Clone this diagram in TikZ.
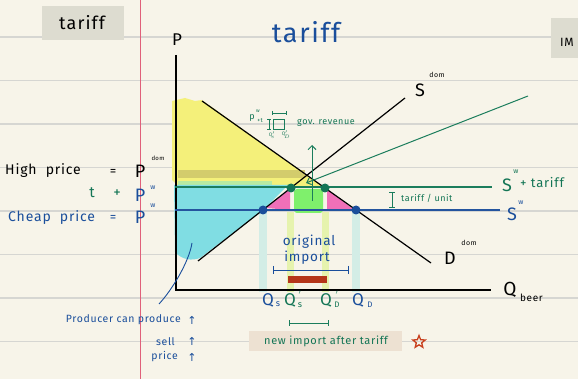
\documentclass[tikz,border=0pt]{standalone}
\usepackage{fontspec}
\setmainfont{Fira Sans}
\newfontfamily\hand[LetterSpace=6]{Fira Sans}
\newfontfamily\symf{DejaVu Sans}
\usetikzlibrary{arrows.meta,shapes.geometric}
\definecolor{bg}{HTML}{F7F4E9}
\definecolor{rulec}{HTML}{D6D6D2}
\definecolor{marginc}{HTML}{E0607A}
\definecolor{boxg}{HTML}{DDDCD0}
\definecolor{boxb}{HTML}{EDE1D2}
\definecolor{gtext}{HTML}{137555}
\definecolor{btext}{HTML}{1A4E9B}
\definecolor{bline}{HTML}{24549E}
\definecolor{gline}{HTML}{1B7D5C}
\definecolor{hyel}{HTML}{F4F07A}
\definecolor{holive}{HTML}{CEC66A}
\definecolor{hcyan}{HTML}{80DDE3}
\definecolor{hlgreen}{HTML}{B8EAA0}
\definecolor{hpink}{HTML}{F070B8}
\definecolor{hgreen}{HTML}{7FF06C}
\definecolor{scyan}{HTML}{D3EDE6}
\definecolor{syel}{HTML}{E6F3AE}
\definecolor{brick}{HTML}{B5361A}
\definecolor{starc}{HTML}{C8401E}
\tikzset{
  lbl/.style={inner sep=0pt, font=\hand},
  curve/.style={line width=1.2pt, black},
  dotb/.style={circle, fill=btext, minimum size=9pt, inner sep=0pt},
  dotg/.style={circle, fill=gtext, minimum size=9pt, inner sep=0pt},
  gmark/.style={gline, line width=0.9pt},
  bmark/.style={btext, line width=0.9pt},
}
\begin{document}
\begin{tikzpicture}[x=1pt,y=-1pt]
\useasboundingbox (0,0) rectangle (578,379);
\fill[bg] (0,0) rectangle (578,379);
\foreach \yy in {37,80.5,124,167.5,211,254.5,298,341.5}
  \draw[rulec, line width=1.2pt] (0,\yy) -- (578,\yy);
\draw[marginc, line width=1pt] (140,0) -- (140,379);

% header boxes
\fill[boxg] (42,6) rectangle (124,40);
\node[lbl, font=\hand\fontsize{18}{18}\selectfont] (ttl1) at (82,23) {tariff};
\fill[boxg] (551,18) rectangle (578,58);
\node[lbl, anchor=west, font=\hand\fontsize{12}{12}\selectfont] (ttl2) at (560,42) {IM};

% main title
\node[lbl, text=btext, font=\hand\fontsize{27}{27}\selectfont] (title) at (306,32) {tariff};

% highlights
\fill[hyel] (172,101) -- (185,98) -- (195,101) -- (202,100) -- (322,186) -- (178,186) -- (172,180) -- cycle;
\fill[holive, opacity=0.85] (178,170) rectangle (305,178);
\fill[hlgreen] (178,181) rectangle (272,186);
\fill[hcyan] (174,185) -- (288,185) -- (263,210) -- (200,258) .. controls (192,261) and (182,260) .. (175,252) -- cycle;
\fill[hpink] (290,189) -- (266,208) -- (290,210) -- cycle;
\fill[hpink] (327,189) -- (353,209) -- (327,210) -- cycle;
\fill[hgreen, rounded corners=3pt] (294,189) rectangle (323,213);
\fill[scyan] (259,212) rectangle (267,292);
\fill[syel] (287,212) rectangle (294,292);
\fill[syel] (322,212) rectangle (329,292);
\fill[scyan] (352,212) rectangle (360,292);

% axes
\coordinate (ytop) at (176,55);
\coordinate (orig) at (176,290);
\coordinate (xend) at (491,290);
\draw[curve] (ytop) -- (orig) -- (xend);
\node[lbl, font=\hand\fontsize{17}{17}\selectfont] (Plab) at (177,40) {P};
\node[lbl, font=\hand\fontsize{19}{19}\selectfont] (Qlab) at (510,290) {Q};
\node[lbl, font=\hand\fontsize{10}{10}\selectfont, anchor=west] (beer) at (520,298) {beer};

% demand & supply
\coordinate (dA) at (202,101);
\coordinate (dB) at (431,263);
\coordinate (sA) at (198,261);
\coordinate (sB) at (405,98);
\draw[curve] (dA) -- (dB);
\draw[curve] (sA) -- (sB);
\node[lbl, font=\hand\fontsize{18}{18}\selectfont] (Sdom) at (420,90) {S};
\node[lbl, font=\hand\fontsize{7}{7}\selectfont] (Sdoms) at (437,75) {dom};
\node[lbl, font=\hand\fontsize{18}{18}\selectfont] (Ddom) at (450,258) {D};
\node[lbl, font=\hand\fontsize{7}{7}\selectfont] (Ddoms) at (469,243) {dom};

% world supply lines
\coordinate (gl0) at (175,187);
\coordinate (gl1) at (492,187);
\coordinate (bl0) at (175,210);
\coordinate (bl1) at (500,210);
\draw[gline, line width=1.1pt] (gl0) -- (gl1);
\draw[bline, line width=1.1pt] (bl0) -- (bl1);
\node[lbl, text=gtext, font=\hand\fontsize{18}{18}\selectfont] (Swt) at (507,185) {S};
\node[lbl, text=gtext, font=\hand\fontsize{7}{7}\selectfont] (Swtw) at (516,172) {w};
\node[lbl, text=gtext, font=\hand\fontsize{13}{13}\selectfont, anchor=west] (plust) at (520,183) {+ tariff};
\node[lbl, text=btext, font=\hand\fontsize{18}{18}\selectfont] (Sw) at (512,214) {S};
\node[lbl, text=btext, font=\hand\fontsize{7}{7}\selectfont] (Sww) at (521,203) {w};

% tariff / unit bracket
\coordinate (tu0) at (392,192);
\coordinate (tu1) at (392,207);
\draw[gmark] (tu0) -- (tu1);
\draw[gmark] (389,192) -- (395,192);
\draw[gmark] (389,207) -- (395,207);
\node[lbl, text=gtext, font=\hand\fontsize{9}{9}\selectfont, anchor=west] (tpu) at (401,198) {tariff / unit};

% green arrows
\coordinate (ga0) at (528,96);
\coordinate (ga1) at (306,183);
\draw[gline, line width=1pt, -{Straight Barb[length=4pt,width=7pt]}] (ga0) -- (ga1);
\coordinate (gv0) at (312,201);
\coordinate (gv1) at (312,145);
\draw[gline, line width=1pt, -{Straight Barb[length=4pt,width=8pt]}] (gv0) -- (gv1);

% dots
\node[dotb] (e1) at (263,210) {};
\node[dotb] (e2) at (356,210) {};
\node[dotg] (g1) at (291,188) {};
\node[dotg] (g2) at (325,188) {};

% gov revenue annotation
\node[lbl, text=gtext, font=\hand\fontsize{9}{9}\selectfont] (pwt) at (252,118) {p};
\node[lbl, text=gtext, font=\hand\fontsize{5}{5}\selectfont] (pwtw) at (258,111) {w};
\node[lbl, text=gtext, font=\hand\fontsize{6}{6}\selectfont] (pwtt) at (260,121) {+t};
\draw[gmark, line width=0.7pt] (273,119) rectangle (284,129);
\draw[gmark, line width=0.7pt] (272,113) -- (286,113) (272,111) -- (272,115) (286,111) -- (286,115);
\draw[gmark, line width=0.7pt] (269,119) -- (269,129) (267,119) -- (271,119) (267,129) -- (271,129);
\node[lbl, text=gtext, font=\hand\fontsize{5}{5}\selectfont] (qs3) at (272,135) {Q$'_{\!s}$};
\node[lbl, text=gtext, font=\hand\fontsize{5}{5}\selectfont] (qd3) at (286,135) {Q$'_{\!D}$};
\node[lbl, text=gtext, font=\hand\fontsize{9}{9}\selectfont, anchor=west] (gov) at (297,123) {gov. revenue};

% left labels
\node[lbl, font=\hand\fontsize{14}{14}\selectfont, anchor=west] (hp) at (5,171) {High\ \ price};
\node[lbl, font=\hand\fontsize{13}{13}\selectfont] (eq1) at (113,172) {=};
\node[lbl, font=\hand\fontsize{18}{18}\selectfont] (P1) at (140,171) {P};
\node[lbl, font=\hand\fontsize{6}{6}\selectfont] (P1s) at (158,158) {dom};
\node[lbl, text=gtext, font=\hand\fontsize{15}{15}\selectfont] (t1) at (92,193) {t};
\node[lbl, text=gtext, font=\hand\fontsize{15}{15}\selectfont] (pl1) at (117,194) {+};
\node[lbl, text=btext, font=\hand\fontsize{18}{18}\selectfont] (P2) at (140,195) {P};
\node[lbl, text=btext, font=\hand\fontsize{7}{7}\selectfont] (P2s) at (153,188) {w};
\node[lbl, text=btext, font=\hand\fontsize{14}{14}\selectfont, anchor=west] (cp) at (8,218) {Cheap\ \ price};
\node[lbl, text=btext, font=\hand\fontsize{13}{13}\selectfont] (eq2) at (113,218) {=};
\node[lbl, text=btext, font=\hand\fontsize{18}{18}\selectfont] (P3) at (140,217) {P};
\node[lbl, text=btext, font=\hand\fontsize{7}{7}\selectfont] (P3s) at (153,206) {w};

% producer note
\coordinate (bc0) at (192,243);
\coordinate (bc1) at (159,304);
\draw[bmark] (bc0) .. controls (189,262) and (172,290) .. (bc1);
\node[lbl, text=btext, font=\hand\fontsize{10.5}{10.5}\selectfont, anchor=east] (pcp) at (181,320) {Producer can produce};
\node[lbl, text=btext, font=\hand\fontsize{10.5}{10.5}\selectfont, anchor=east] (sell) at (175,342) {sell};
\node[lbl, text=btext, font=\hand\fontsize{10.5}{10.5}\selectfont, anchor=east] (price) at (178,357) {price};
\node[lbl, text=btext, font=\symf\fontsize{11}{11}\selectfont] (ar1) at (192,320) {↑};
\node[lbl, text=btext, font=\symf\fontsize{11}{11}\selectfont] (ar2) at (192,341) {↑};
\node[lbl, text=btext, font=\symf\fontsize{11}{11}\selectfont] (ar3) at (192,357) {↑};

% original import
\node[lbl, text=btext, font=\hand\fontsize{13.5}{13.5}\selectfont] (orig1) at (309,242) {original};
\node[lbl, text=btext, font=\hand\fontsize{13.5}{13.5}\selectfont] (orig2) at (307,258) {import};
\coordinate (ob0) at (273,270);
\coordinate (ob1) at (348,270);
\draw[bmark] (ob0) -- (ob1) (273,266) -- (273,274) (348,266) -- (348,274);
\fill[brick] (288,276) rectangle (327,283);

% Q labels
\node[lbl, text=btext, font=\hand\fontsize{17}{17}\selectfont] (Qs) at (268,300) {Q};
\node[lbl, text=btext, font=\hand\fontsize{9}{9}\selectfont] (Qss) at (278,304) {s};
\node[lbl, text=gtext, font=\hand\fontsize{17}{17}\selectfont] (Qs2) at (290,300) {Q};
\node[lbl, text=gtext, font=\hand\fontsize{9}{9}\selectfont] (Qs2s) at (300,295) {$'$};
\node[lbl, text=gtext, font=\hand\fontsize{9}{9}\selectfont] (Qs2b) at (300,305) {s};
\node[lbl, text=gtext, font=\hand\fontsize{17}{17}\selectfont] (Qd2) at (326,300) {Q};
\node[lbl, text=gtext, font=\hand\fontsize{9}{9}\selectfont] (Qd2s) at (337,295) {$'$};
\node[lbl, text=gtext, font=\hand\fontsize{8}{8}\selectfont] (Qd2b) at (337,305) {D};
\node[lbl, text=btext, font=\hand\fontsize{17}{17}\selectfont] (Qd) at (358,300) {Q};
\node[lbl, text=btext, font=\hand\fontsize{8}{8}\selectfont] (Qdb) at (370,305) {D};

% new import after tariff
\coordinate (nb0) at (289,323);
\coordinate (nb1) at (328,323);
\draw[gmark] (nb0) -- (nb1) (289,320) -- (289,326) (328,320) -- (328,326);
\fill[boxb] (249,331) rectangle (402,351);
\node[lbl, text=gtext, font=\hand\fontsize{11}{11}\selectfont] (nia) at (326,341) {new import after tariff};
\node[star, star points=5, star point ratio=2.3, draw=starc, line width=1.3pt, minimum size=13pt, inner sep=0pt] (star) at (419,342) {};
\end{tikzpicture}
\end{document}
